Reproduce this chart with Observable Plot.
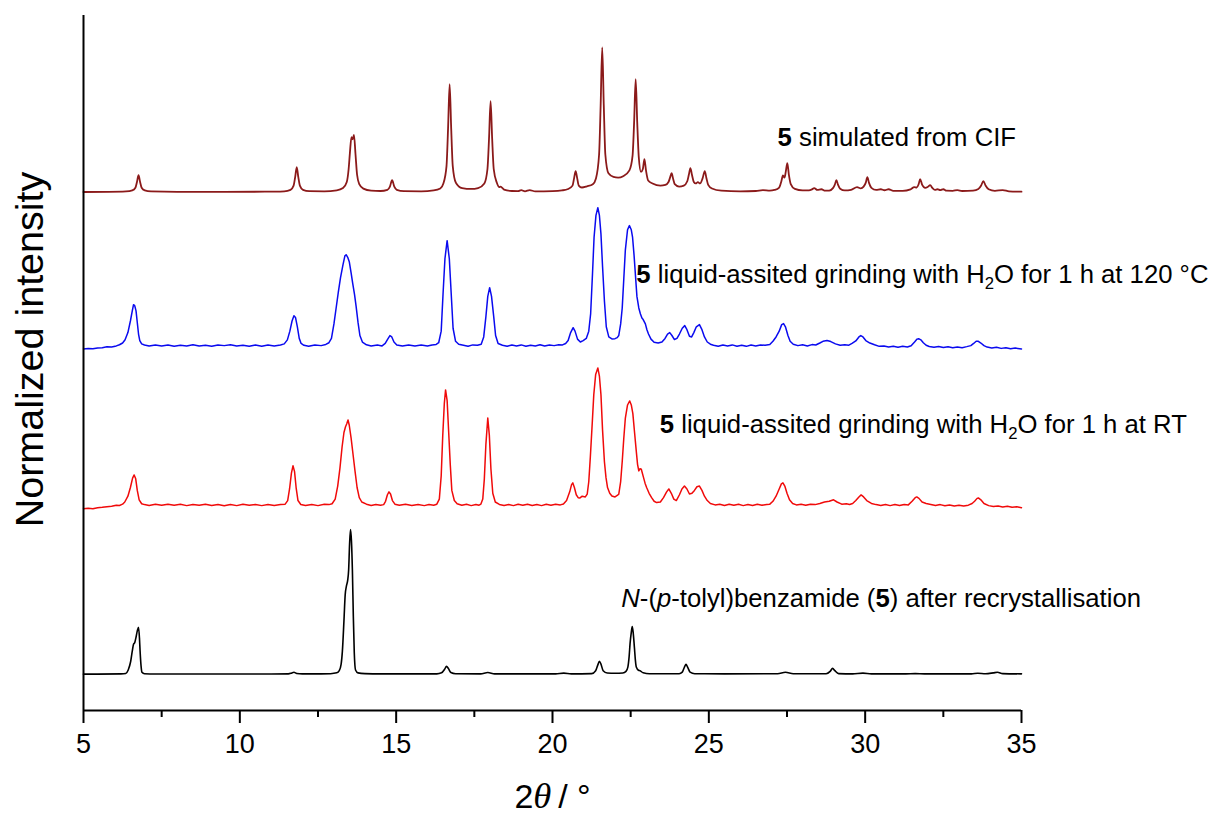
<!DOCTYPE html>
<html>
<head>
<meta charset="utf-8">
<script src="https://cdn.jsdelivr.net/npm/d3@7"></script>
<script src="https://cdn.jsdelivr.net/npm/@observablehq/plot@0.6"></script>
<style>
  body { margin: 0; background: #fff; }
</style>
</head>
<body>
<div id="chart"></div>
<script>
// Powder X-ray diffraction patterns: [2θ (°), intensity (% of common scale)]

// 5 simulated from CIF
const simulated = [
  [5,0.1],[5.8,0.2],[6.36,0.5],[6.56,1.2],[6.66,3],[6.71,7],[6.76,11.7],[6.81,7],[6.86,3],[6.96,1.2],[7.16,0.5],
  [8,0.2],[9.5,0.2],[10.8,0.3],[11.42,0.6],[11.62,1.6],[11.72,4.5],[11.77,10.4],[11.82,17.3],[11.87,10.4],[11.92,4.5],
  [12.02,1.6],[12.22,0.7],[12.7,0.6],[13.1,1.2],[13.3,2.8],[13.42,7],[13.48,16],[13.52,27],[13.57,38],[13.61,36.5],
  [13.65,39.5],[13.7,26],[13.75,12],[13.82,5.5],[13.95,2.4],[14.2,1],[14.5,0.8],[14.72,1.6],[14.8,3.8],[14.87,8.3],
  [14.94,3.8],[15.02,1.6],[15.25,0.7],[15.8,0.6],[16.2,1.2],[16.41,2.5],[16.51,6],[16.61,18],[16.66,44],[16.71,74.6],
  [16.76,44],[16.81,18],[16.91,6.5],[17.11,2.8],[17.4,2.2],[17.62,2.8],[17.82,6],[17.92,16],[17.97,37],[18.02,62.8],
  [18.07,37],[18.12,16],[18.22,6.5],[18.3,3.5],[18.34,3.8],[18.45,1.8],[18.7,0.8],[18.9,0.7],[19.0,1.4],[19.12,0.6],
  [19.27,1.4],[19.45,0.5],[20.0,0.7],[20.3,1.2],[20.5,2.2],[20.64,4.5],[20.69,9.5],[20.74,14.5],[20.79,9.5],[20.84,4.5],
  [20.94,3.2],[21.1,4],[21.29,5.5],[21.39,9.5],[21.49,26],[21.54,60],[21.59,100],[21.64,60],[21.69,26],[21.79,13],
  [21.95,10.5],[22.1,10],[22.26,11],[22.46,15],[22.56,25],[22.61,48],[22.66,78],[22.71,48],[22.76,24],[22.83,14],
  [22.89,16],[22.94,22.8],[22.99,15],[23.06,8],[23.2,6],[23.45,4.5],[23.61,5],[23.71,7],[23.76,10],[23.81,13.1],
  [23.86,9],[23.91,5.5],[24.05,3.8],[24.2,4.5],[24.31,7.5],[24.36,12],[24.41,16.6],[24.46,12],[24.52,7],[24.58,6],
  [24.65,6.9],[24.72,6],[24.8,9.5],[24.87,14.5],[24.92,10],[24.98,5],[25.1,2.5],[25.4,1],[26.0,0.6],[26.5,0.8],
  [26.73,1.4],[26.95,1],[27.1,1.5],[27.25,3.2],[27.32,7.5],[27.37,11.5],[27.42,10],[27.46,14],[27.51,20],[27.56,12],
  [27.62,5.5],[27.75,2.2],[28.0,1.2],[28.2,1.2],[28.3,1.9],[28.37,2.8],[28.47,1.5],[28.6,2],[28.72,1],[28.85,1.1],
  [28.97,2.8],[29.03,5.2],[29.08,8.3],[29.13,5.2],[29.2,2.4],[29.35,1.2],[29.55,1.6],[29.74,3.5],[29.86,2.6],[29.95,3.8],
  [30.02,6.6],[30.07,10.4],[30.12,6.6],[30.2,3],[30.35,1.5],[30.5,2],[30.62,1.3],[30.75,2],[30.9,0.9],[31.2,0.9],
  [31.45,1.9],[31.57,3.5],[31.65,3.2],[31.71,5.5],[31.76,9],[31.82,5.2],[31.92,3],[32.0,3.6],[32.08,4.8],[32.15,2.9],
  [32.23,1.6],[32.31,2],[32.4,1.4],[32.5,2],[32.6,1],[32.8,0.9],[32.95,1.4],[33.1,0.8],[33.45,1.1],[33.62,2.2],
  [33.71,4.6],[33.78,7.6],[33.85,4.6],[33.95,2],[34.15,0.9],[34.4,1.4],[34.6,0.6],[35,0.3]
];

// 5 after liquid-assisted grinding with H2O, 1 h at 120 °C
const grinding120 = [
  [5,-2.3],[5.15,-2.0],[5.3,-2.2],[5.45,-1.6],[5.6,-1.4],[5.75,-0.8],[5.9,-0.9],[6.05,-0.2],[6.15,0.6],[6.25,1.8],
  [6.33,4],[6.42,9],[6.5,17],[6.56,24],[6.6,28.3],[6.64,27.5],[6.68,24],[6.72,16],[6.76,8],[6.8,3.5],[6.86,1.2],[6.95,0.4],
  [7.1,-0.3],[7.3,0.5],[7.5,-0.2],[7.7,0.4],[7.9,-0.5],[8.1,0.3],[8.3,-0.2],[8.5,0.6],[8.7,-0.3],[8.9,0.2],[9.1,-0.4],
  [9.3,0.5],[9.5,0],[9.7,0.6],[9.9,-0.3],[10.1,0.3],[10.3,-0.5],[10.5,0.4],[10.7,-0.4],[10.9,0.5],[11.1,-0.2],[11.3,0.4],
  [11.42,1.2],[11.52,4],[11.6,10],[11.67,17],[11.73,20.7],[11.78,19.5],[11.84,13],[11.9,5],[11.96,1.5],[12.05,0.2],
  [12.2,-0.4],[12.4,0.5],[12.6,0],[12.75,0.8],[12.85,2],[12.93,5],[13.01,15],[13.08,26],[13.15,37],[13.22,47],[13.3,56],
  [13.36,62],[13.4,62.8],[13.45,61],[13.5,58],[13.56,50],[13.61,43],[13.67,35],[13.72,27],[13.78,16],[13.84,7],[13.92,2.5],
  [14.05,0.6],[14.2,-0.3],[14.4,0.4],[14.55,-0.2],[14.65,1.5],[14.73,4.5],[14.8,6.9],[14.86,6],[14.93,2.5],[15.02,0.5],
  [15.2,-0.3],[15.4,0.5],[15.6,-0.2],[15.8,0.4],[16.0,-0.3],[16.15,0.5],[16.28,0.8],[16.36,2],[16.44,10],[16.5,36],
  [16.56,60],[16.63,72.5],[16.7,60],[16.76,36],[16.82,12],[16.9,3],[17.0,1],[17.15,0.3],[17.3,-0.4],[17.45,0.5],[17.6,0.2],
  [17.72,1],[17.8,6],[17.87,20],[17.93,34],[17.99,40],[18.05,34],[18.12,20],[18.18,7],[18.26,1.5],[18.4,0.3],
  [18.55,-0.4],[18.7,0.4],[18.85,-0.3],[19.0,0.5],[19.15,-0.4],[19.3,0.3],[19.45,-0.2],[19.6,0.6],[19.75,-0.3],[19.9,0.4],
  [20.05,0],[20.2,0.6],[20.32,0.5],[20.42,1.5],[20.5,3.5],[20.58,9],[20.66,12.4],[20.72,10],[20.8,4.5],[20.89,2.5],[20.98,3.5],
  [21.08,5],[21.16,10],[21.22,22],[21.28,50],[21.33,75],[21.39,90],[21.45,95.3],[21.5,90],[21.55,77],[21.6,55],[21.66,31],
  [21.72,13],[21.8,6],[21.9,4.6],[22.0,4.8],[22.07,5.5],[22.12,7],[22.18,15],[22.23,26],[22.28,46],[22.33,66],[22.4,80],
  [22.46,82.9],[22.52,80],[22.56,75],[22.61,62],[22.65,49.5],[22.7,34],[22.76,26],[22.81,22],[22.86,19],[22.9,18],[22.97,15],
  [23.02,11],[23.07,8],[23.15,4.5],[23.25,2.3],[23.38,1.8],[23.5,2.5],[23.6,5],[23.68,8],[23.75,9],[23.82,7],[23.9,4.2],
  [23.98,5],[24.06,8],[24.15,12],[24.23,13.8],[24.3,11],[24.38,6.5],[24.45,6],[24.52,9],[24.6,13],[24.7,14.5],[24.78,11],
  [24.86,6],[24.95,2.5],[25.05,1],[25.15,0.3],[25.3,-0.4],[25.45,0.4],[25.6,-0.3],[25.75,0.5],[25.9,-0.4],[26.05,0.3],
  [26.2,-0.5],[26.35,0.4],[26.5,-0.2],[26.65,0.5],[26.8,0.2],[26.95,0.8],[27.05,3],[27.15,6],[27.25,10],[27.33,14.5],
  [27.39,15.2],[27.45,13],[27.53,7],[27.6,3],[27.7,1],[27.85,0],[28.0,0.6],[28.15,-0.2],[28.3,0.7],[28.42,0.4],[28.55,1.8],
  [28.65,3],[28.78,3.5],[28.9,2.8],[29.05,1.2],[29.2,0.2],[29.35,0.6],[29.48,0.3],[29.58,1.5],[29.7,3.2],[29.8,6],
  [29.86,6.9],[29.93,6],[30.02,3.5],[30.15,1.8],[30.3,0.6],[30.45,-0.5],[30.6,-0.2],[30.75,-1],[30.9,-0.4],[31.05,-1.1],
  [31.2,-0.5],[31.35,-0.9],[31.47,-0.1],[31.58,2.5],[31.66,4.5],[31.71,4.8],[31.78,4],[31.86,2],[31.95,0.3],[32.05,-0.6],
  [32.2,-1.2],[32.35,-0.6],[32.5,-1.3],[32.65,-0.8],[32.8,-1.5],[32.95,-0.9],[33.1,-1.4],[33.25,-0.7],[33.38,0],[33.47,1.5],
  [33.55,3],[33.62,3],[33.7,1.8],[33.8,0],[33.9,-1],[34.05,-1.6],[34.2,-1.1],[34.35,-1.9],[34.5,-1.4],[34.65,-2.1],
  [34.8,-1.7],[35,-2.3]
];

// 5 after liquid-assisted grinding with H2O, 1 h at room temperature
const grindingRT = [
  [5,-2.7],[5.15,-2.4],[5.3,-2.6],[5.45,-1.9],[5.6,-1.6],[5.75,-1.2],[5.9,-1.0],[6.05,-0.3],[6.15,-0.4],[6.25,0.5],
  [6.32,2],[6.42,6],[6.5,12],[6.57,18.5],[6.62,20.7],[6.67,18],[6.72,10],[6.78,3.5],[6.86,0.8],[6.95,0.2],
  [7.1,-0.4],[7.3,0.4],[7.5,-0.3],[7.7,0.5],[7.9,-0.2],[8.1,0.4],[8.3,-0.5],[8.5,0.3],[8.7,-0.3],[8.9,0.5],[9.1,-0.4],
  [9.3,0.2],[9.5,-0.6],[9.7,0.3],[9.9,-0.5],[10.1,0.4],[10.3,-0.3],[10.5,0.2],[10.7,-0.5],[10.9,0.3],[11.1,-0.4],[11.3,0.3],
  [11.45,0.5],[11.53,3],[11.59,11],[11.65,22],[11.7,27],[11.75,23],[11.8,12],[11.86,3],[11.95,0.3],
  [12.1,-0.4],[12.3,0.3],[12.5,-0.5],[12.7,0.4],[12.85,0.2],[12.95,0.8],[13.05,4],[13.13,13],[13.2,25],[13.27,40],
  [13.33,50],[13.38,54],[13.42,56],[13.46,58.7],[13.5,55],[13.56,46],[13.62,35],[13.68,24],[13.75,12],[13.82,5],[13.9,2],
  [14.05,0.5],[14.2,-0.4],[14.35,0.3],[14.5,-0.3],[14.6,0.2],[14.66,2.5],[14.72,7],[14.77,9],[14.82,7.5],[14.88,3],[14.96,0.5],
  [15.1,-0.3],[15.3,0.4],[15.5,-0.4],[15.7,0.3],[15.9,-0.5],[16.05,0.3],[16.2,-0.2],[16.3,0.5],[16.38,4],[16.44,20],
  [16.49,48],[16.54,70],[16.58,79.4],[16.63,72],[16.68,50],[16.73,28],[16.78,10],[16.86,3],[16.95,0.8],
  [17.1,-0.3],[17.25,0.4],[17.4,-0.5],[17.55,0.3],[17.65,-0.2],[17.71,0.6],[17.77,4],[17.82,18],[17.87,42],[17.93,60],
  [17.98,48],[18.03,25],[18.09,8],[18.17,2],[18.3,0.3],[18.45,-0.4],[18.6,0.3],[18.75,-0.5],[18.9,0.4],[19.05,-0.3],
  [19.2,0.5],[19.35,-0.4],[19.5,0.3],[19.65,-0.5],[19.8,0.4],[19.95,-0.2],[20.1,0.5],[20.25,0],[20.35,0.6],[20.45,3],
  [20.55,9],[20.61,14],[20.65,15.2],[20.7,12],[20.76,7],[20.82,5],[20.88,4.8],[20.95,6],[21.05,5.5],[21.11,7.4],[21.16,16],
  [21.21,33],[21.27,56],[21.32,76],[21.38,90],[21.45,94.6],[21.5,89],[21.55,76],[21.6,52],[21.66,30],[21.71,19],[21.76,12],
  [21.83,8],[21.9,6.2],[22.0,5.5],[22.07,6.5],[22.12,7.4],[22.18,16],[22.23,30],[22.28,46],[22.33,60],[22.4,69],[22.47,71.8],
  [22.52,69],[22.57,63],[22.62,51],[22.68,37],[22.72,28],[22.76,23.5],[22.8,25],[22.84,24.6],[22.91,19],[22.96,15],[23.01,12],
  [23.09,8],[23.17,5],[23.25,2.5],[23.33,1.6],[23.45,2],[23.55,5],[23.65,9],[23.72,11],[23.8,8],[23.88,4],[23.96,3],
  [24.06,7],[24.14,11],[24.22,13],[24.3,11],[24.38,7.5],[24.46,8],[24.54,10],[24.62,12.5],[24.7,13],[24.78,10],[24.86,6],
  [24.95,3],[25.05,1],[25.2,0],[25.35,0.4],[25.5,-0.4],[25.65,0.5],[25.8,-0.3],[25.95,0.4],[26.1,-0.5],[26.25,0.3],
  [26.4,-0.4],[26.55,0.5],[26.7,-0.2],[26.85,0.3],[26.95,0.5],[27.05,2.5],[27.15,6],[27.25,11],[27.32,14.5],[27.37,15.2],
  [27.43,13],[27.5,8],[27.58,3.5],[27.68,1],[27.8,0],[27.95,0.4],[28.1,-0.3],[28.25,0.5],[28.4,0.2],[28.55,1],[28.7,2],
  [28.85,2.5],[28.99,3.5],[29.1,2],[29.25,0.5],[29.4,0.8],[29.5,0.3],[29.6,1],[29.7,3],[29.8,5.5],[29.87,6.9],[29.95,5.5],
  [30.05,3],[30.2,1],[30.35,0.2],[30.5,-0.4],[30.65,0.3],[30.8,-0.5],[30.95,0.2],[31.1,-0.4],[31.25,0.3],[31.38,0],
  [31.5,2.5],[31.6,5],[31.65,5.5],[31.72,4.5],[31.82,2],[31.95,1],[32.1,0.3],[32.25,-0.4],[32.4,0.2],[32.55,-0.6],[32.7,0],
  [32.85,-0.7],[33.0,-0.2],[33.15,-0.8],[33.3,-0.2],[33.42,1],[33.5,2.5],[33.58,4.5],[33.62,4.8],[33.7,3.5],[33.8,1],
  [33.95,-0.5],[34.1,-1.1],[34.25,-0.7],[34.4,-1.4],[34.55,-1],[34.7,-1.6],[34.85,-1.3],[35,-1.9]
];

// N-(p-tolyl)benzamide (5) after recrystallisation
const recrystallised = [
  [5,0.1],[6.2,0.3],[6.35,0.6],[6.43,3],[6.51,9],[6.56,16],[6.6,20.7],[6.64,22],[6.68,25.6],[6.72,30],[6.76,32.5],
  [6.79,25],[6.81,16],[6.84,6],[6.87,1.4],[6.95,0.4],[7.3,0.2],[9,0.2],[11,0.2],[11.55,0.3],[11.65,0.8],[11.73,1.4],
  [11.82,0.6],[12,0.3],[12.6,0.3],[12.9,0.4],[13.1,1],[13.18,2.5],[13.24,7],[13.28,16],[13.33,37],[13.37,55],[13.41,61],
  [13.45,65],[13.48,72],[13.51,90],[13.54,100],[13.57,92],[13.6,72],[13.63,40],[13.66,15],[13.7,3],[13.78,1],[14.0,0.5],
  [14.5,0.3],[16.3,0.3],[16.45,1],[16.55,3.5],[16.61,5.5],[16.67,4],[16.75,1.2],[16.9,0.4],[17.7,0.3],[17.93,1.2],
  [18.15,0.3],[20.1,0.3],[20.36,0.8],[20.6,0.3],[21.25,0.5],[21.38,2.5],[21.45,6.5],[21.5,9],[21.55,7],[21.62,2.5],
  [21.75,0.9],[22.0,0.7],[22.25,0.9],[22.35,2],[22.41,5],[22.45,12],[22.48,21],[22.52,29],[22.55,33],[22.58,29],
  [22.62,18.4],[22.65,10],[22.68,5],[22.75,2.8],[22.8,2.5],[22.9,1],[23.1,0.4],[24.05,0.4],[24.15,1.5],[24.22,5],
  [24.27,6.9],[24.32,5],[24.4,1.5],[24.55,0.4],[25.5,0.3],[27.2,0.4],[27.45,1.4],[27.7,0.4],[28.75,0.4],[28.88,2],
  [28.96,4.1],[29.03,2.5],[29.15,0.5],[29.6,0.3],[29.93,0.8],[30.2,0.3],[31.3,0.3],[31.6,0.5],[31.9,0.3],[33.4,0.3],
  [33.6,0.7],[33.85,0.4],[34.1,1],[34.23,1.4],[34.4,0.5],[35,0.3]
];

// Vertical stacking offsets (normalized units), colours and line styles for each pattern
const traceData    = [simulated, grinding120, grindingRT, recrystallised];
const traceOffsets = [3.58, 2.52, 1.42, 0.25];
const traceColors  = ["#8b1a1a", "#0a0aef", "#f00a0a", "#000000"];
const traceWidths  = [1.8, 1.5, 1.5, 1.6];
const traceCurves  = ["monotone-x", "linear", "linear", "monotone-x"];

// Axis ticks
const majorTicks = [5, 10, 15, 20, 25, 30, 35];
const minorTicks = [7.5, 12.5, 17.5, 22.5, 27.5, 32.5];

// Pattern labels, anchored at their left edge
const labelText = [
  "5 simulated from CIF",
  "5 liquid-assited grinding with H2O for 1 h at 120 \u00b0C",
  "5 liquid-assited grinding with H2O for 1 h at RT",
  "N-(p-tolyl)benzamide (5) after recrystallisation"
];
const labelX = [27.2, 22.68, 23.43, 22.2];
const labelY = [3.957, 3.01, 1.975, 0.773];

const xTitle = "2\u03b8\u2009/ \u00b0";
const yTitle = "Normalized intensity";

// Styled runs for the labels: b = bold, i = italic, sub = subscript, ti = serif italic
const richRuns = {
  [labelText[0]]: [["5", "b"], [" simulated from CIF", ""]],
  [labelText[1]]: [["5", "b"], [" liquid-assited grinding with H", ""], ["2", "sub"], ["O for 1 h at 120 \u00b0C", ""]],
  [labelText[2]]: [["5", "b"], [" liquid-assited grinding with H", ""], ["2", "sub"], ["O for 1 h at RT", ""]],
  [labelText[3]]: [["N", "i"], ["-(", ""], ["p", "i"], ["-tolyl)benzamide (", ""], ["5", "b"], [") after recrystallisation", ""]],
  [xTitle]: [["2", ""], ["\u03b8", "ti"], ["\u2009/ \u00b0", ""]]
};

const labels = labelText.map((text, i) => ({text, x: labelX[i], y: labelY[i]}));

const lineMarks = traceData.map((pts, i) =>
  Plot.line(pts, {
    x: d => d[0],
    y: d => traceOffsets[i] + d[1] / 100,
    stroke: traceColors[i],
    strokeWidth: traceWidths[i],
    curve: traceCurves[i]
  })
);

const chart = Plot.plot({
  width: 1210,
  height: 817,
  marginLeft: 83,
  marginRight: 189,
  marginTop: 15,
  marginBottom: 107,
  x: {domain: [5, 35]},
  y: {domain: [0, 4.8], axis: null},
  style: {fontFamily: "'Liberation Sans', Arial, sans-serif", background: "#fff", overflow: "visible", color: "#000"},
  marks: [
    ...lineMarks,
    Plot.ruleX([5], {stroke: "#000", strokeWidth: 2}),
    Plot.ruleY([0], {stroke: "#000", strokeWidth: 2}),
    Plot.axisX(majorTicks, {tickSize: 13, tickPadding: 10, fontSize: 27, strokeWidth: 2, label: null, tickFormat: d => String(d)}),
    Plot.axisX(minorTicks, {tickSize: 7, strokeWidth: 2, label: null, tickFormat: () => ""}),
    Plot.text(labels, {x: "x", y: "y", text: "text", textAnchor: "start", fontSize: 25.7, fill: "#000"}),
    Plot.text([xTitle], {x: 20, frameAnchor: "bottom", lineAnchor: "middle", dy: 87, text: d => d, fontSize: 34, fill: "#000"}),
    Plot.text([yTitle], {x: 5, y: 2.493, dx: -53, rotate: -90, text: d => d, fontSize: 39.5, fill: "#000"})
  ]
});

// Replace plain label strings by styled tspans
d3.select(chart).selectAll("text").each(function () {
  const runs = richRuns[this.textContent];
  if (!runs) return;
  const el = d3.select(this);
  el.text(null);
  let lowered = false;
  for (const [t, kind] of runs) {
    const ts = el.append("tspan").text(t);
    if (kind === "b") ts.attr("font-weight", "bold");
    if (kind === "i") ts.attr("font-style", "italic");
    if (kind === "ti") ts.attr("font-style", "italic").attr("font-family", "'Liberation Serif', 'Times New Roman', serif").attr("font-size", "1.08em");
    if (kind === "sub") {
      ts.attr("font-size", "0.65em").attr("dy", "0.35em");
      lowered = true;
    } else if (lowered) {
      ts.attr("dy", "-0.2275em");
      lowered = false;
    }
  }
});

document.getElementById("chart").appendChild(chart);
</script>
</body>
</html>
